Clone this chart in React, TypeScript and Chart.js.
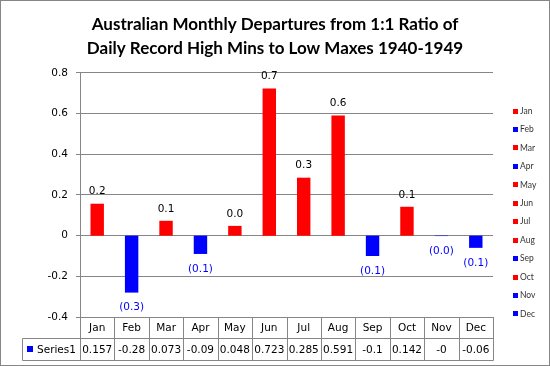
import React, { useEffect, useRef } from 'react';
import { Chart, registerables } from 'chart.js';

Chart.register(...registerables);

const categories = ['Jan', 'Feb', 'Mar', 'Apr', 'May', 'Jun', 'Jul', 'Aug', 'Sep', 'Oct', 'Nov', 'Dec'];
const values = [0.157, -0.28, 0.073, -0.09, 0.048, 0.723, 0.285, 0.591, -0.1, 0.142, -0.002, -0.06];
const tableText = ['0.157', '-0.28', '0.073', '-0.09', '0.048', '0.723', '0.285', '0.591', '-0.1', '0.142', '-0', '-0.06'];
const seriesName = 'Series1';
const titleLines = ['Australian Monthly Departures from 1:1 Ratio of', 'Daily Record High Mins to Low Maxes 1940-1949'];
const yMin = -0.4;
const yMax = 0.8;
const yStep = 0.2;

const POS = '#FF0000';
const NEG = '#0000FF';
const GRID = '#868686';
const TXT_FONT = '"DejaVu Sans", Verdana, sans-serif';

const barColor = (v: number) => (v < 0 ? NEG : POS);
const labelText = (v: number) => (v < 0 ? '(' + Math.abs(v).toFixed(1) + ')' : v.toFixed(1));

const extras = {
  id: 'extras',
  afterDatasetsDraw(chart: any) {
    const ctx = chart.ctx;
    const meta = chart.getDatasetMeta(0);
    ctx.save();
    ctx.font = '10.5px ' + TXT_FONT;
    ctx.textAlign = 'center';
    ctx.textBaseline = 'middle';
    meta.data.forEach((bar: any, i: number) => {
      const v = values[i];
      if (v < 0) {
        ctx.fillStyle = NEG;
        ctx.fillText(labelText(v), bar.x, bar.y + 15);
      } else {
        ctx.fillStyle = '#000000';
        ctx.fillText(labelText(v), bar.x, bar.y - 12);
      }
    });
    ctx.restore();
  },
  afterDraw(chart: any) {
    const ctx = chart.ctx;
    const area = chart.chartArea;
    const xs = chart.scales.x;
    const n = categories.length;
    const w = (area.right - area.left) / n;
    const top = Math.round(area.bottom) + 0.5;
    const mid = 338.5;
    const bot = 360.5;
    const tableLeft = 22.5;
    ctx.save();
    ctx.strokeStyle = GRID;
    ctx.lineWidth = 1;
    ctx.beginPath();
    ctx.moveTo(tableLeft, mid);
    ctx.lineTo(Math.round(area.right) + 0.5, mid);
    ctx.moveTo(tableLeft, bot);
    ctx.lineTo(Math.round(area.right) + 0.5, bot);
    ctx.moveTo(tableLeft, mid);
    ctx.lineTo(tableLeft, bot);
    for (let k = 0; k <= n; k++) {
      const x = Math.round(area.left + k * w) + 0.5;
      ctx.moveTo(x, top - 0.5);
      ctx.lineTo(x, bot);
    }
    ctx.stroke();

    ctx.font = '10.5px ' + TXT_FONT;
    ctx.fillStyle = '#000000';
    ctx.textAlign = 'center';
    ctx.textBaseline = 'middle';
    categories.forEach((c, i) => {
      const x = xs.getPixelForValue(i);
      ctx.fillText(c, x, (top + mid) / 2 + 0.5);
      ctx.fillText(tableText[i], x, (mid + bot) / 2 + 0.5);
    });
    ctx.fillStyle = NEG;
    ctx.fillRect(27, 346, 6, 6);
    ctx.fillStyle = '#000000';
    ctx.textAlign = 'left';
    ctx.fillText(seriesName, 37, (mid + bot) / 2 + 0.5);

    // legend
    ctx.font = '8.5px Lato, "Liberation Sans", sans-serif';
    ctx.textBaseline = 'middle';
    categories.forEach((c, i) => {
      const y = 110.5 + i * 18.45;
      ctx.fillStyle = barColor(values[i]);
      ctx.fillRect(513, Math.round(y) - 2, 5, 5);
      ctx.fillStyle = '#333333';
      ctx.fillText(c, 520, y + 0.5);
    });

    // outer border
    ctx.strokeStyle = GRID;
    ctx.strokeRect(0.5, 0.5, 549, 365);
    ctx.restore();
  },
};

const bgPlugin = {
  id: 'bg',
  beforeDraw(chart: any) {
    const ctx = chart.ctx;
    ctx.save();
    ctx.fillStyle = '#ffffff';
    ctx.fillRect(0, 0, chart.width, chart.height);
    ctx.restore();
  },
};

export default function App() {
  const ref = useRef<HTMLCanvasElement | null>(null);
  useEffect(() => {
    document.body.style.margin = '0';
    if (!ref.current) return;
    const chart = new Chart(ref.current, {
      type: 'bar',
      data: {
        labels: categories,
        datasets: [
          {
            label: seriesName,
            data: values,
            backgroundColor: values.map(barColor),
            borderWidth: 0,
            barPercentage: 0.39,
            categoryPercentage: 1,
          },
        ],
      },
      options: {
        animation: false,
        responsive: false,
        devicePixelRatio: 1,
        layout: { padding: { top: 0, left: 0, right: 0, bottom: 49 } },
        plugins: {
          legend: { display: false },
          tooltip: { enabled: false },
          title: {
            display: true,
            text: titleLines,
            color: '#000000',
            font: { family: 'Lato, "Liberation Sans", sans-serif', size: 17, weight: 'bold', lineHeight: 1.41 },
            padding: { top: 12.5, bottom: 12.5 },
          },
        },
        scales: {
          x: { display: false },
          y: {
            min: yMin,
            max: yMax,
            ticks: {
              stepSize: yStep,
              color: '#000000',
              padding: 8,
              font: { family: TXT_FONT, size: 10.5 },
              callback: (v: any) => String(Number(Number(v).toFixed(1))),
            },
            grid: { color: GRID, lineWidth: 1, drawTicks: true, tickLength: 4, tickColor: GRID },
            border: { display: true, color: GRID, width: 1 },
            afterFit: (s: any) => {
              s.width = 80;
            },
          },
          yR: {
            position: 'right',
            display: true,
            ticks: { display: false },
            grid: { display: false },
            border: { display: false },
            afterFit: (s: any) => {
              s.width = 57;
            },
          },
        },
      },
      plugins: [bgPlugin, extras],
    });
    return () => chart.destroy();
  }, []);
  return (
    <div style={{ position: 'absolute', left: 0, top: 0, width: 550, height: 366 }}>
      <canvas ref={ref} width={550} height={366} style={{ display: 'block' }} />
    </div>
  );
}
